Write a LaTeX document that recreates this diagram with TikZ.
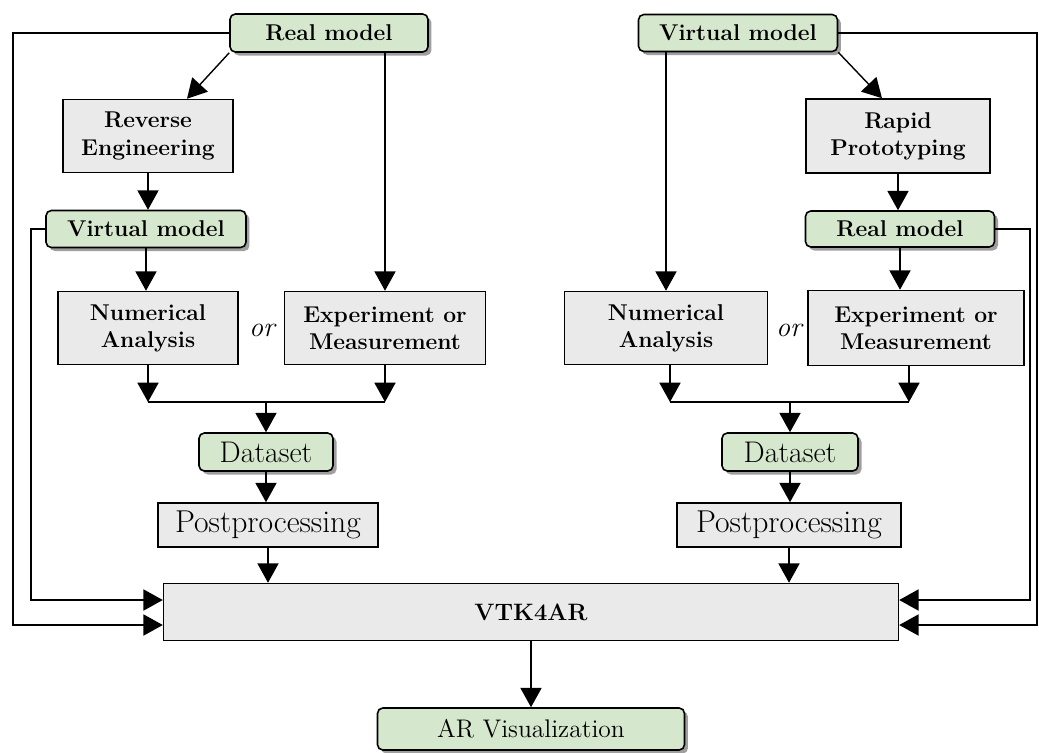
\documentclass[tikz,border=0pt]{standalone}
\usetikzlibrary{arrows.meta,shadows}
\definecolor{boxgreen}{RGB}{213,232,205}
\definecolor{boxgray}{RGB}{234,234,234}

\begin{document}
\begin{tikzpicture}[x=0.02cm, y=-0.02cm,
  grn/.style={draw, line width=0.9pt, rounded corners=3pt, fill=boxgreen,
    drop shadow={shadow xshift=2pt, shadow yshift=-2pt, fill=gray!75, opacity=1},
    font=\fontsize{13}{15.5}\selectfont\bfseries, inner sep=0pt},
  gry/.style={draw, line width=0.9pt, fill=boxgray,
    font=\fontsize{13}{15.5}\selectfont\bfseries, align=center, inner sep=0pt},
  arr/.style={-{Triangle[length=11pt,width=12pt]}, line width=0.8pt},
  ln/.style={line width=0.8pt}]

\useasboundingbox (0,0) rectangle (1039,752);

% --- Left branch ---
\node[grn, minimum width=3.96cm, minimum height=0.76cm] (realL) at (329,33) {Real model};
\node[gry, minimum width=3.4cm, minimum height=1.46cm] (revEng) at (148,136) {Reverse\\Engineering};
\node[grn, minimum width=4.0cm, minimum height=0.74cm] (virtL) at (146,229) {Virtual model};
\node[gry, minimum width=3.6cm, minimum height=1.46cm] (numL) at (148,328) {Numerical\\Analysis};
\node[gry, minimum width=4.02cm, minimum height=1.46cm] (expL) at (385,328) {Experiment or\\Measurement};
\node[font=\fontsize{16}{19}\selectfont\itshape] (orL) at (262,330) {or};
\node[grn, minimum width=2.68cm, minimum height=0.76cm, font=\fontsize{17}{20}\selectfont] (dataL) at (266,452) {Dataset};
\node[gry, minimum width=4.4cm, minimum height=0.88cm, font=\fontsize{18}{21}\selectfont] (postL) at (268,525) {Postprocessing};

% --- Right branch ---
\node[grn, minimum width=3.98cm, minimum height=0.74cm] (virtR) at (738,33) {Virtual model};
\node[gry, minimum width=3.68cm, minimum height=1.48cm] (rapid) at (898,136) {Rapid\\Prototyping};
\node[grn, minimum width=3.78cm, minimum height=0.72cm] (realR) at (900,229) {Real model};
\node[gry, minimum width=4.06cm, minimum height=1.46cm] (numR) at (666,328) {Numerical\\Analysis};
\node[gry, minimum width=4.32cm, minimum height=1.5cm] (expR) at (916,328) {Experiment or\\Measurement};
\node[font=\fontsize{16}{19}\selectfont\itshape] (orR) at (789,330) {or};
\node[grn, minimum width=2.72cm, minimum height=0.76cm, font=\fontsize{17}{20}\selectfont] (dataR) at (790,452) {Dataset};
\node[gry, minimum width=4.48cm, minimum height=0.88cm, font=\fontsize{18}{21}\selectfont] (postR) at (789,525) {Postprocessing};

% --- Common part ---
\node[gry, minimum width=14.7cm, minimum height=1.14cm, font=\fontsize{13.5}{16}\selectfont\bfseries] (vtk) at (531,612) {VTK4AR};
\node[grn, minimum width=6.14cm, minimum height=0.84cm, font=\fontsize{14.5}{17}\selectfont] (arvis) at (531,729) {AR Visualization};

% --- Junctions and side lines ---
\coordinate (jL) at (266,402);
\coordinate (jR) at (790,402);
\coordinate (outL) at (13,625);
\coordinate (inL) at (31,600);
\coordinate (outR) at (1037,625);
\coordinate (inR) at (1030,600);

% --- Left connectors ---
\draw[arr] (realL.south west) -- ([xshift=0.78cm]revEng.north);
\draw[arr] (revEng.south) -- (revEng.south |- virtL.north);
\draw[arr] (virtL.south) -- (virtL.south |- numL.north);
\draw[arr] (expL.north |- realL.south) -- (expL.north);
\draw[arr] (numL.south) -- (numL.south |- jL);
\draw[arr] (expL.south) -- (expL.south |- jL);
\draw[ln] (numL.south |- jL) -- (expL.south |- jL);
\draw[arr] (jL) -- (dataL.north);
\draw[arr] (dataL.south) -- (dataL.south |- postL.north);
\draw[arr] (postL.south) -- (postL.south |- vtk.north);
\draw[arr] (realL.west) -| (outL) -- (outL -| vtk.west);
\draw[arr] (virtL.west) -| (inL) -- (inL -| vtk.west);

% --- Right connectors ---
\draw[arr] (virtR.south east) -- ([xshift=-0.32cm]rapid.north);
\draw[arr] (rapid.south) -- (rapid.south |- realR.north);
\draw[arr] (numR.north |- virtR.south) -- (numR.north);
\draw[arr] (realR.south) -- (realR.south |- expR.north);
\draw[arr] ([xshift=0.08cm]numR.south) -- ([xshift=0.08cm]numR.south |- jR);
\draw[arr] ([xshift=-0.14cm]expR.south) -- ([xshift=-0.14cm]expR.south |- jR);
\draw[ln] ([xshift=0.08cm]numR.south |- jR) -- ([xshift=-0.14cm]expR.south |- jR);
\draw[arr] (jR) -- (dataR.north);
\draw[arr] (dataR.south) -- (dataR.south |- postR.north);
\draw[arr] (postR.south) -- (postR.south |- vtk.north);
\draw[arr] (virtR.east) -| (outR) -- (outR -| vtk.east);
\draw[arr] (realR.east) -| (inR) -- (inR -| vtk.east);

% --- Output ---
\draw[arr] (vtk.south) -- (arvis.north);

\end{tikzpicture}
\end{document}
